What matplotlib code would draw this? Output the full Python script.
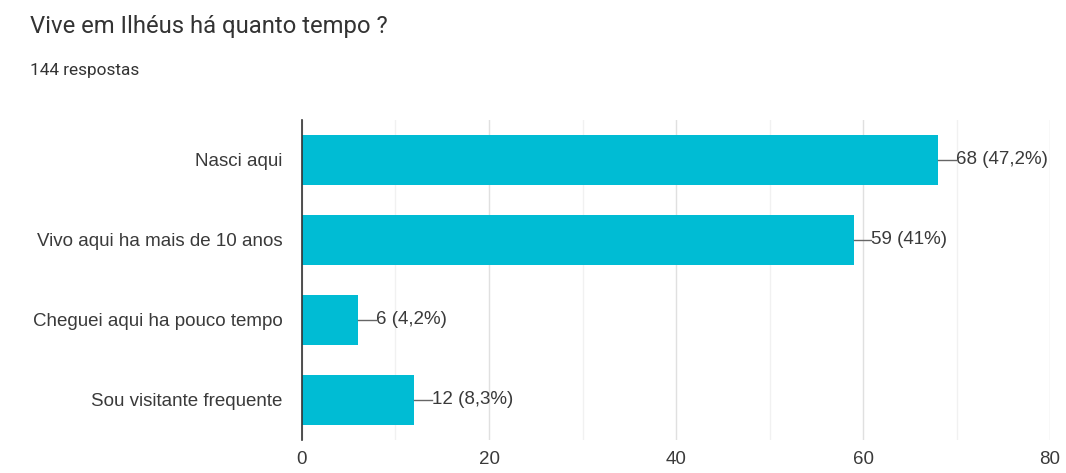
import matplotlib
matplotlib.use('Agg')
import matplotlib.pyplot as plt

# respostas do formulário
categorias = ['Nasci aqui', 'Vivo aqui ha mais de 10 anos',
              'Cheguei aqui ha pouco tempo', 'Sou visitante frequente']
contagens = [68, 59, 6, 12]
percentuais = ['47,2%', '41%', '4,2%', '8,3%']
total = 144
ticks_x = [0, 20, 40, 60, 80]

plt.rcParams['font.family'] = ['Liberation Sans', 'DejaVu Sans']

fig = plt.figure(figsize=(10.66, 4.73), dpi=100)
ax = fig.add_axes([0.2833, 0.0698, 0.7017, 0.6765])

pos = list(range(len(categorias)))
bars = ax.barh(pos, contagens, height=0.625, color='#00bcd4', zorder=3)

ax.set_xlim(0, 80)
ax.set_ylim(3.5, -0.5)
ax.set_xticks(ticks_x)
ax.set_xticks([10, 30, 50, 70], minor=True)
ax.set_yticks(pos)
ax.set_yticklabels(categorias)
ax.grid(axis='x', which='major', color='#e0e0e0', lw=1, zorder=0)
ax.grid(axis='x', which='minor', color='#f1f1f1', lw=1, zorder=0)
ax.tick_params(axis='both', which='both', length=0, labelsize=13.5, colors='#3a3a3a')
ax.tick_params(axis='y', pad=14)
ax.tick_params(axis='x', pad=8)

for s in ['top', 'right', 'bottom']:
    ax.spines[s].set_visible(False)
ax.spines['left'].set_color('#333333')
ax.spines['left'].set_linewidth(1.2)
ax.spines['left'].set_zorder(4)

# rótulos com linha de chamada
for b, n, p in zip(bars, contagens, percentuais):
    y = b.get_y() + b.get_height() / 2
    ax.plot([n, n + 1.9], [y, y], color='#666666', lw=1, zorder=4, clip_on=False)
    ax.text(n + 1.9, y, f'{n} ({p})', va='center', ha='left',
            fontsize=13.5, color='#3a3a3a', zorder=4)

fig.text(0.028, 0.945, 'Vive em Ilhéus há quanto tempo ?', fontsize=17.2,
         family=['Roboto', 'DejaVu Sans'], color='#333333', va='center')
fig.text(0.028, 0.852, f'{total} respostas', fontsize=12.4,
         family=['Roboto', 'DejaVu Sans'], color='#333333', va='center')

fig.savefig('out.png', dpi=100, facecolor='white')
